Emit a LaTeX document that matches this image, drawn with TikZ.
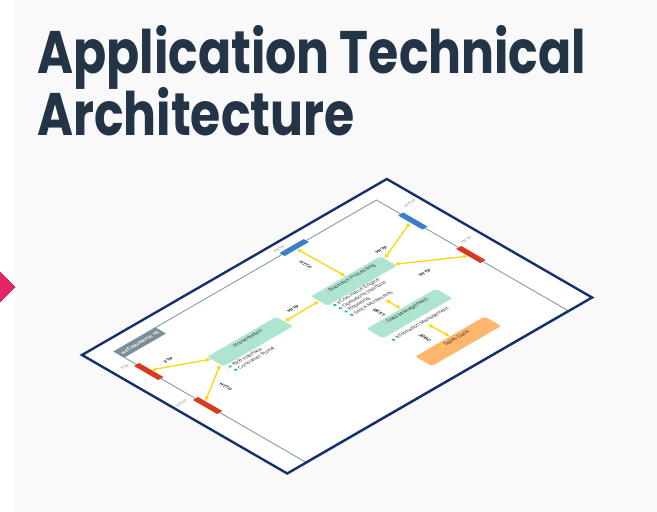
\documentclass[tikz,border=0pt]{standalone}
\usepackage{fontspec}
\setmainfont{Liberation Sans}
\newfontfamily\titlefont{Poppins}[FakeStretch=0.815]
\usetikzlibrary{arrows.meta,calc}

\definecolor{slidebg}{HTML}{F9F9F9}
\definecolor{titleink}{HTML}{243447}
\definecolor{tabpink}{HTML}{E62469}
\definecolor{boardnavy}{HTML}{16306E}
\definecolor{framegray}{HTML}{869CA6}
\definecolor{tabgray}{HTML}{7B8F98}
\definecolor{partgreen}{HTML}{AEE5D0}
\definecolor{partorange}{HTML}{FFB56B}
\definecolor{linkyellow}{HTML}{FFD60A}
\definecolor{portred}{HTML}{D63A1F}
\definecolor{portblue}{HTML}{3A7FCC}
\definecolor{dotteal}{HTML}{1EBF9B}

\newcommand{\partmark}[1][black!22]{\textcolor{#1}{\rule{2.8pt}{2.8pt}}\,}

\tikzset{
    part/.style={fill=partgreen, rounded corners=2pt, minimum width=80pt, minimum height=19pt,
        inner sep=0pt, text height=3.8pt, text depth=9pt, font=\fontsize{5.6}{6}\selectfont, text=black!80},
    shoptab/.style={fill=tabgray, minimum width=48pt, minimum height=12pt, inner sep=0pt,
        font=\bfseries\fontsize{5.4}{6}\selectfont, text=white},
    vport/.style={minimum width=6pt, minimum height=28pt, inner sep=0pt},
    hport/.style={minimum width=28pt, minimum height=6pt, inner sep=0pt},
    portlabel/.style={inner sep=0pt, font=\fontsize{4.5}{5}\selectfont, text=black!50},
    linklabel/.style={inner sep=0pt, font=\bfseries\fontsize{4.8}{5}\selectfont, text=black!85},
    dot/.style={circle, fill=dotteal, minimum size=3.6pt, inner sep=0pt},
    item/.style={anchor=west, inner sep=0pt, font=\fontsize{5.4}{6}\selectfont, text=black!80},
    link/.style={draw=linkyellow, line width=1.3pt, {Latex[length=4.5pt,width=4.5pt]}-{Latex[length=4.5pt,width=4.5pt]}}
}

\begin{document}
\begin{tikzpicture}[x=1pt, y=-1pt]
    \clip (0,0) rectangle (657,512);
    \fill[white] (0,0) rectangle (657,512);
    \fill[slidebg] (15,0) rectangle (657,512);
    \filldraw[fill=tabpink, draw=tabpink!75!black] (15,287) -- (-2,270) -- (-19,287) -- (-2,304) -- cycle;

    \node[anchor=base west, inner sep=0pt, text=titleink, font=\titlefont\bfseries\fontsize{60}{60}\selectfont] (title1) at (37,73) {Application Technical};
    \node[anchor=base west, inner sep=0pt, text=titleink, font=\titlefont\bfseries\fontsize{60}{60}\selectfont] (title2) at (37,135) {Architecture};

    \begin{scope}[shift={(82,355)}, cm={0.866,0.5,-0.866,0.5,(0,0)}, transform shape]
        \fill[white] (0,0) rectangle (352,237);
        \draw[framegray, line width=0.9pt] (22,15) rectangle (325,236);
        \draw[boardnavy, line width=2.4pt] (0,0) rectangle (352,237);

        \node[shoptab] (shop) at (46,21) {\partmark[white!60!tabgray]eCommerce v2};

        \node[vport, fill=portred] (ftp) at (22,55) {};
        \node[vport, fill=portred] (httpl) at (22,123) {};
        \node[hport, fill=portblue] (webt) at (230,15) {};
        \node[vport, fill=portblue] (webr) at (325,57) {};
        \node[vport, fill=portred] (httpr) at (325,124) {};

        \node[portlabel] (ftplab) at (13,37) {FTP};
        \node[portlabel] (httpllab) at (9,106) {HTTP};
        \node[portlabel] (webtlab) at (220,8) {HTTP};
        \node[portlabel] (webrlab) at (341,38) {HTTP};
        \node[portlabel] (httprlab) at (337,107) {HTTP};

        \node[part] (pres) at (110.5,83.5) {\partmark Presentation};
        \node[part] (bp) at (231,83) {\partmark Business Processing};
        \node[part] (dm) at (230.5,147.5) {\partmark Data Management};
        \node[part, fill=partorange] (sales) at (231,203.5) {\partmark[yellow!80!orange]Sales Data};

        \foreach \t[count=\i] in {B2B Interface, Consumer Portal} {
            \node[dot] (presdot\i) at (74,90.5+6.5*\i) {};
            \node[item] (pres\i) at (77,90.5+6.5*\i) {\t};
        }
        \foreach \t[count=\i] in {eCommerce Engine, Operations Interface, Reporting, Stock Movements} {
            \node[dot] (bpdot\i) at (196,89.5+6.5*\i) {};
            \node[item] (bp\i) at (199,89.5+6.5*\i) {\t};
        }
        \node[dot] (dmdot1) at (195,164.5) {};
        \node[item] (dm1) at (198,164.5) {Information Management};

        \coordinate (restend) at (230.5,120);
        \coordinate (jdbcend) at (230.5,169);

        \draw[link] (ftp.east) -- ($(pres.north west)!0.25!(pres.south west)$);
        \draw[link] ($(httpl.north east)!0.3!(httpl.south east)$) -- ($(pres.north west)!0.8!(pres.south west)$);
        \draw[link] (pres.east) -- (bp.west);
        \draw[link] (webt.south) -- (bp.north);
        \draw[link] (webr.west) -- ($(bp.north east)!0.25!(bp.south east)$);
        \draw[link] (httpr.west) -- ($(bp.north east)!0.85!(bp.south east)$);
        \draw[link] (restend) -- (dm.north);
        \draw[link] (jdbcend) -- (sales.north);

        \node[linklabel] (ftplink) at (45,55) {FTP};
        \node[linklabel, rotate=-90] (httpllink) at (51,115) {HTTP};
        \node[linklabel] (preslink) at (168,76) {HTTP};
        \node[linklabel, rotate=-90] (webtlink) at (219,39) {HTTP};
        \node[linklabel] (webrlink) at (278,68) {HTTP};
        \node[linklabel] (httprlink) at (280,116) {HTTP};
        \node[linklabel, rotate=-90] (restlink) at (214,129) {REST};
        \node[linklabel, rotate=-90] (jdbclink) at (215,181) {JDBC};
    \end{scope}
\end{tikzpicture}
\end{document}
